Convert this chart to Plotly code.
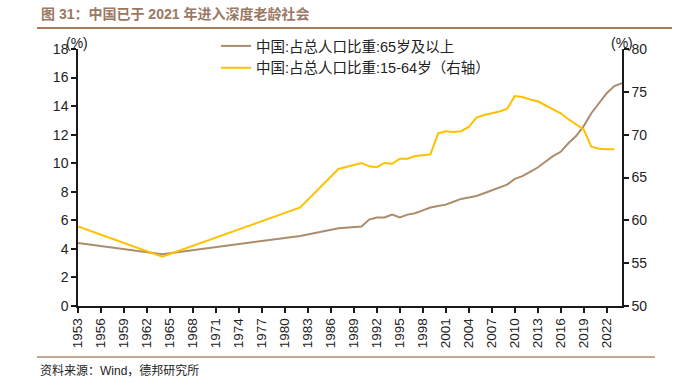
import plotly.graph_objects as go

# ---- data ----
years_65 = [1953, 1964, 1982, 1987, 1990, 1991, 1992, 1993, 1994, 1995, 1996, 1997, 1998, 1999,
            2000, 2001, 2002, 2003, 2004, 2005, 2006, 2007, 2008, 2009, 2010, 2011, 2012, 2013,
            2014, 2015, 2016, 2017, 2018, 2019, 2020, 2021, 2022, 2023, 2024]
share_65 = [4.41, 3.62, 4.91, 5.44, 5.57, 6.05, 6.2, 6.2, 6.4, 6.2, 6.4, 6.5, 6.7, 6.9,
            7.0, 7.1, 7.3, 7.5, 7.6, 7.7, 7.9, 8.1, 8.3, 8.5, 8.9, 9.1, 9.4, 9.7,
            10.1, 10.5, 10.8, 11.4, 11.9, 12.6, 13.5, 14.2, 14.9, 15.4, 15.6]

years_1564 = [1953, 1964, 1982, 1987, 1990, 1991, 1992, 1993, 1994, 1995, 1996, 1997, 1998, 1999,
              2000, 2001, 2002, 2003, 2004, 2005, 2006, 2007, 2008, 2009, 2010, 2011, 2012, 2013,
              2014, 2015, 2016, 2017, 2018, 2019, 2020, 2021, 2022, 2023]
share_1564 = [59.3, 55.75, 61.5, 66.0, 66.7, 66.3, 66.2, 66.7, 66.6, 67.2, 67.2, 67.5, 67.6, 67.7,
              70.15, 70.4, 70.3, 70.4, 70.9, 72.0, 72.3, 72.5, 72.7, 73.0, 74.5, 74.4, 74.1, 73.9,
              73.4, 73.0, 72.5, 71.8, 71.2, 70.6, 68.6, 68.35, 68.3, 68.3]

x_ticks = list(range(1953, 2023, 3))
left_ticks = list(range(0, 19, 2))
right_ticks = list(range(50, 81, 5))

name_65 = "中国:占总人口比重:65岁及以上"
name_1564 = "中国:占总人口比重:15-64岁（右轴）"
title_text = "图 31：中国已于 2021 年进入深度老龄社会"
source_text = "资料来源：Wind，德邦研究所"

# ---- geometry (pixels) ----
W, H = 681, 382
L, R, T, B = 78, 59, 49, 76
pw, ph = W - L - R, H - T - B


def px_x(x):
    return (x - L) / pw


def px_y(y):
    return (H - B - y) / ph


BROWN = "#ab8c6c"
YELLOW = "#ffc000"
AXIS = "#1a1a1a"
FONT = "Liberation Sans, Arial, Noto Sans CJK SC"
CJK = "Liberation Sans, Noto Sans CJK SC"

fig = go.Figure()
fig.add_trace(go.Scatter(x=years_65, y=share_65, mode="lines", name=name_65,
                         line=dict(color=BROWN, width=2), yaxis="y"))
fig.add_trace(go.Scatter(x=years_1564, y=share_1564, mode="lines", name=name_1564,
                         line=dict(color=YELLOW, width=2), yaxis="y2"))

fig.update_layout(
    width=W, height=H,
    margin=dict(l=L, r=R, t=T, b=B, autoexpand=False),
    paper_bgcolor="white", plot_bgcolor="white",
    showlegend=True,
    legend=dict(x=px_x(216), y=px_y(30), xanchor="left", yanchor="top",
                bgcolor="rgba(0,0,0,0)", font=dict(family=CJK, size=14.5, color="#222"),
                tracegroupgap=0, itemwidth=30),
    xaxis=dict(range=[1953, 2024], tickmode="array", tickvals=x_ticks,
               ticktext=[str(v) for v in x_ticks], tickangle=-90,
               showgrid=False, zeroline=False, showline=True, linecolor=AXIS, linewidth=1.5,
               ticks="outside", ticklen=5, tickcolor=AXIS, tickwidth=1.5,
               tickfont=dict(family=FONT, size=13.5, color="#222"), automargin=False),
    yaxis=dict(range=[0, 18], tickmode="array", tickvals=left_ticks,
               showgrid=False, zeroline=False, showline=True, linecolor=AXIS, linewidth=1.5,
               ticks="outside", ticklen=5, tickcolor=AXIS, tickwidth=1.5,
               tickfont=dict(family=FONT, size=14, color="#222"), automargin=False),
    yaxis2=dict(range=[50, 80], tickmode="array", tickvals=right_ticks, overlaying="y", side="right",
                showgrid=False, zeroline=False, showline=True, linecolor=AXIS, linewidth=1.5,
                ticks="outside", ticklen=5, tickcolor=AXIS, tickwidth=1.5,
                tickfont=dict(family=FONT, size=14, color="#222"), automargin=False),
    shapes=[
        dict(type="line", xref="paper", yref="paper", x0=px_x(37), x1=px_x(672),
             y0=px_y(28), y1=px_y(28), line=dict(color="#a87a5c", width=2)),
        dict(type="line", xref="paper", yref="paper", x0=px_x(37), x1=px_x(655),
             y0=px_y(357), y1=px_y(357), line=dict(color="#b58a6c", width=1.5)),
    ],
    annotations=[
        dict(text="<b>" + title_text + "</b>", xref="paper", yref="paper",
             x=px_x(39), y=px_y(14), xanchor="left", yanchor="middle", showarrow=False,
             font=dict(family=CJK, size=14, color="#9a7864")),
        dict(text="(%)", xref="paper", yref="paper", x=px_x(77), y=px_y(43),
             xanchor="center", yanchor="middle", showarrow=False,
             font=dict(family=FONT, size=14, color="#222")),
        dict(text="(%)", xref="paper", yref="paper", x=px_x(622), y=px_y(43),
             xanchor="center", yanchor="middle", showarrow=False,
             font=dict(family=FONT, size=14, color="#222")),
        dict(text=source_text, xref="paper", yref="paper", x=px_x(38), y=px_y(370),
             xanchor="left", yanchor="middle", showarrow=False,
             font=dict(family=CJK, size=12, color="#222")),
    ],
)

fig.write_html("out.html", config={"displayModeBar": False},
               post_script="document.body.style.margin='0';document.body.style.padding='0';")
